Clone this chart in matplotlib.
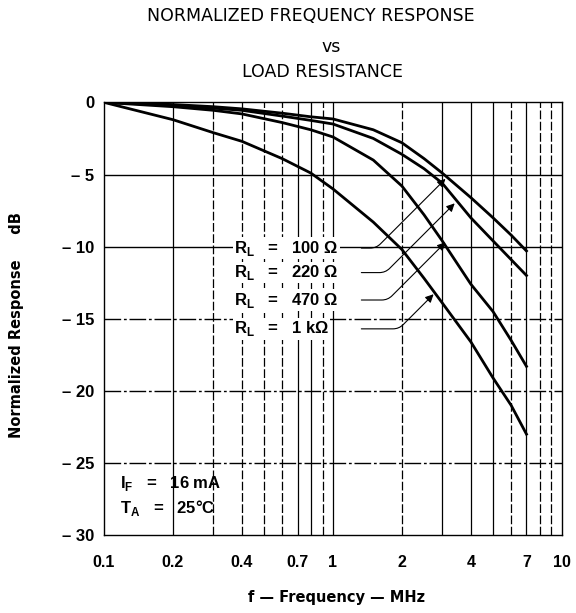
import numpy as np
import matplotlib
matplotlib.use('Agg')
from matplotlib import pyplot as plt

plt.rcParams['font.family'] = ['Liberation Sans', 'DejaVu Sans']
plt.rcParams['mathtext.fontset'] = 'custom'
plt.rcParams['mathtext.rm'] = 'Liberation Sans:bold'
plt.rcParams['mathtext.bf'] = 'Liberation Sans:bold'

# frequency (MHz) and normalized response (dB)
freq = [0.1, 0.2, 0.3, 0.4, 0.6, 0.8, 1.0, 1.5, 2.0, 2.5, 3.0, 4.0, 5.0, 6.0, 7.0]
resp_100 = [0, -0.15, -0.3, -0.45, -0.75, -1.0, -1.15, -1.9, -2.8, -3.9, -4.9, -6.6, -8.0, -9.2, -10.3]
resp_220 = [0, -0.2, -0.4, -0.55, -0.95, -1.25, -1.5, -2.5, -3.6, -4.6, -5.6, -8.0, -9.6, -10.9, -12.0]
resp_470 = [0, -0.3, -0.55, -0.8, -1.4, -1.9, -2.4, -4.0, -5.8, -7.8, -9.6, -12.6, -14.5, -16.5, -18.3]
resp_1k = [0, -1.2, -2.1, -2.7, -3.9, -4.9, -6.0, -8.3, -10.2, -12.2, -13.9, -16.6, -19.1, -21.0, -23.0]

labels = [r'R$_\mathregular{L}$   =   100 $\Omega$', r'R$_\mathregular{L}$   =   220 $\Omega$',
          r'R$_\mathregular{L}$   =   470 $\Omega$', r'R$_\mathregular{L}$   =   1 k$\Omega$']
label_y = [-10.1, -11.8, -13.7, -15.7]
arrow_tip = [(3.1, -5.3), (3.4, -7.0), (3.1, -9.7), (2.75, -13.3)]

xticks = [0.1, 0.2, 0.4, 0.7, 1, 2, 4, 7, 10]
xticklabels = ['0.1', '0.2', '0.4', '0.7', '1', '2', '4', '7', '10']
yticks = [0, -5, -10, -15, -20, -25, -30]
yticklabels = ['0', '\u2013 5', '\u2013 10', '\u2013 15', '\u2013 20', '\u2013 25', '\u2013 30']

fig = plt.figure(figsize=(5.76, 6.13), dpi=100)
ax = fig.add_axes([0.1806, 0.127, 0.795, 0.706])
ax.set_xscale('log')
ax.set_xlim((0.1, 10))
ax.set_ylim((-30, 0))

# grid, roughly like the scanned one (some lines broken)
solid_v = [0.2, 0.7, 0.8, 1, 3, 4, 5, 7]
dash_v = [0.3, 0.4, 0.5, 0.6, 0.9, 2, 6, 8, 9]
for v in solid_v:
    ax.axvline(v, color='k', lw=0.9, zorder=1)
for v in dash_v:
    ax.axvline(v, color='k', lw=0.9, ls=(0, (7, 2)), zorder=1)
for h in [-5, -10]:
    ax.axhline(h, color='k', lw=1.0, zorder=1)
for h in [-15, -20, -25]:
    ax.axhline(h, color='k', lw=1.0, ls=(0, (12, 2, 2, 2)), zorder=1)

lw = 2
for r in [resp_100, resp_220, resp_470, resp_1k]:
    ax.plot(freq, r, color='k', lw=lw, zorder=3)

for lab, ly, tip in zip(labels, label_y, arrow_tip):
    ax.text(0.37, ly, lab, fontsize=12, fontweight='bold', va='center', ha='left',
            bbox=dict(facecolor='white', edgecolor='none', pad=1), zorder=4)
    ax.annotate('', xy=tip, xytext=(1.33, ly),
                arrowprops=dict(arrowstyle='-|>', color='k', lw=0.8, mutation_scale=12,
                                connectionstyle='angle,angleA=0,angleB=45,rad=6', shrinkA=0, shrinkB=0),
                zorder=4)

ax.text(0.118, -26.4, r'I$_\mathregular{F}$   =   16 mA', fontsize=12, fontweight='bold', va='center')
ax.text(0.118, -28.1, r'T$_\mathregular{A}$   =   25$\degree$C', fontsize=12, fontweight='bold', va='center')

ax.set_xticks(xticks)
ax.set_xticklabels(xticklabels, fontsize=11.5, fontweight='bold')
ax.set_xticks([], minor=True)
ax.set_yticks(yticks)
ax.set_yticklabels(yticklabels, fontsize=12, fontweight='bold')
ax.tick_params(axis='both', length=0)
ax.tick_params(axis='x', pad=14)
ax.tick_params(axis='y', pad=7)
for s in ax.spines.values():
    s.set_linewidth(1.0)

tfont = dict(family='DejaVu Sans', fontsize=12.5, ha='center', va='center')
fig.text(0.54, 0.974, 'NORMALIZED FREQUENCY RESPONSE', **tfont)
fig.text(0.575, 0.923, 'vs', **tfont)
fig.text(0.56, 0.882, 'LOAD RESISTANCE', **tfont)
fig.text(0.585, 0.0245, 'f \u2014 Frequency \u2014 MHz', family='DejaVu Sans', fontsize=10.5,
         fontweight='bold', ha='center', va='center')
fig.text(0.028, 0.47, 'Normalized Response     dB', family='DejaVu Sans', fontsize=10.5,
         fontweight='bold', rotation=90, ha='center', va='center')

fig.savefig('out.png', dpi=100)
